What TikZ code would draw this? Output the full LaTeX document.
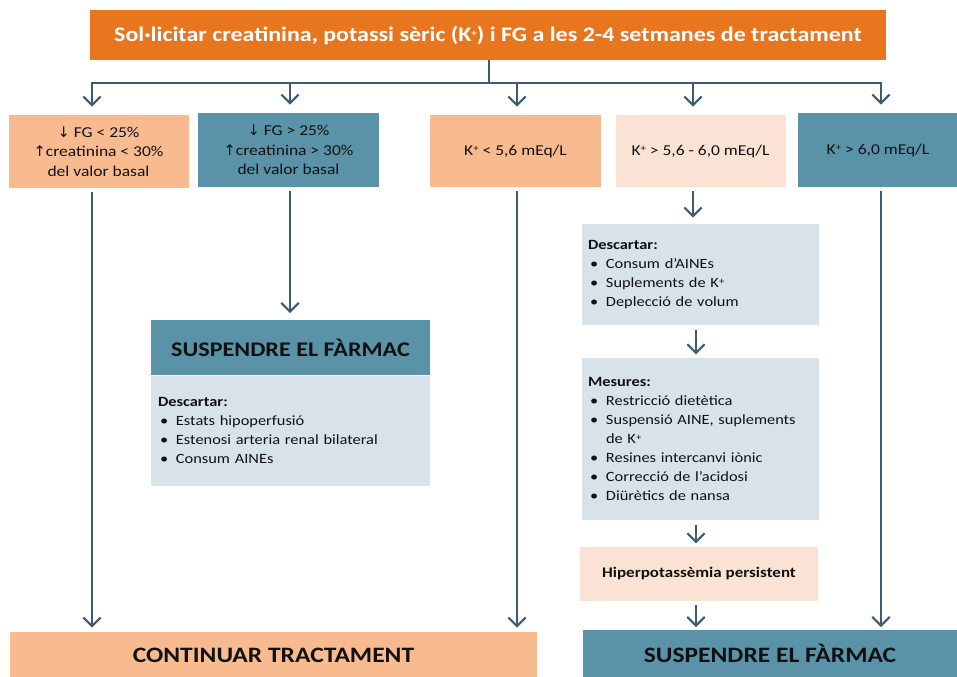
\documentclass[tikz,border=0pt]{standalone}
\usepackage{fontspec}
\setmainfont{Carlito}[FakeStretch=1.16]
\newfontfamily\symf{DejaVu Sans}
\usetikzlibrary{arrows.meta}
\definecolor{orangeT}{HTML}{E8761E}
\definecolor{peach}{HTML}{F8BB90}
\definecolor{teal}{HTML}{5A93A8}
\definecolor{lpeach}{HTML}{FAE3D5}
\definecolor{lblue}{HTML}{D7E2E9}
\definecolor{lineC}{HTML}{3D5C71}
\definecolor{txt}{HTML}{111111}
\newcommand{\bul}{\makebox[13.5pt][l]{\hspace{1.5pt}\textbullet}}
\newcommand{\Kp}{K\raisebox{0.45ex}{\scriptsize +}}
\newcommand{\dn}{{\symf\fontsize{11}{10}\selectfont ↓}}
\newcommand{\up}{{\symf\fontsize{11}{10}\selectfont ↑}}
\tikzset{
  sz/.style 2 args={minimum width=#1*0.75pt, minimum height=#2*0.75pt},
  box/.style={inner sep=0pt, align=center, text=txt, font=\fontsize{11.3}{14.5}\selectfont},
  listbox/.style={inner xsep=4.5pt, inner ysep=0pt, align=left, text=txt, fill=lblue, font=\fontsize{10.6}{14.3}\selectfont},
  arr/.style={draw=lineC, line width=1.6pt, -{Straight Barb[length=6.5pt,width=13pt]}},
  ln/.style={draw=lineC, line width=1.6pt}
}
\begin{document}
\begin{tikzpicture}[x=0.75pt,y=-0.75pt]
\useasboundingbox (0,0) rectangle (957,677);
\fill[white] (0,0) rectangle (957,677);
% top
\node[box, fill=orangeT, text=white, font=\bfseries\fontsize{15.5}{18}\selectfont, sz={796}{50}] (top) at (488,35)
  {Sol·licitar creatinina, potassi sèric (\Kp) i FG a les 2-4 setmanes de tractament};
% row 1
\node[box, fill=peach, sz={180}{73}] (b1) at (98.5,151.5) {\dn\ FG < 25\%\\\up creatinina < 30\%\\del valor basal};
\node[box, fill=teal, sz={181}{74}] (b2) at (288.5,150) {\dn\ FG > 25\%\\\up creatinina > 30\%\\del valor basal};
\node[box, fill=peach, sz={171}{72}] (b3) at (515.5,151) {\Kp\ < 5,6 mEq/L};
\node[box, fill=lpeach, sz={170}{72}] (b4) at (700.5,151) {\Kp\ > 5,6 - 6,0 mEq/L};
\node[box, fill=teal, sz={160}{74}] (b5) at (878,150) {\Kp\ > 6,0 mEq/L};
% left suspend
\node[box, fill=teal, font=\bfseries\fontsize{15.6}{19}\selectfont, sz={279}{55}] (sh) at (290.5,347.5) {SUSPENDRE EL FÀRMAC};
\node[listbox, text width=198.75pt, inner xsep=5.25pt, minimum height=110*0.75pt, anchor=north] (sb) at (sh.south)
  {\textbf{Descartar:}\\\bul Estats hipoperfusió\\\bul Estenosi arteria renal bilateral\\\bul Consum AINEs};
% right column
\node[listbox, text width=168.75pt, minimum height=101*0.75pt] (d) at (700.5,274.5)
  {\textbf{Descartar:}\\\bul Consum d’AINEs\\\bul Suplements de \Kp\\\bul Deplecció de volum};
\node[listbox, text width=168.75pt, minimum height=162*0.75pt] (m) at (700.5,439)
  {\textbf{Mesures:}\\\bul Restricció dietètica\\\bul Suspensió AINE, suplements\\\hspace*{13.5pt}de \Kp\\\bul Resines intercanvi iònic\\\bul Correcció de l’acidosi\\\bul Diürètics de nansa};
\node[box, fill=lpeach, font=\bfseries\fontsize{11}{13}\selectfont, sz={238}{54}] (h) at (699,574) {Hiperpotassèmia persistent};
% bottom
\node[box, fill=peach, font=\bfseries\fontsize{16.5}{20}\selectfont, sz={527}{46}] (cont) at (273.5,655) {CONTINUAR TRACTAMENT};
\node[box, fill=teal, font=\bfseries\fontsize{16.5}{20}\selectfont, sz={374}{47}] (sbot) at (770,653.5) {SUSPENDRE EL FÀRMAC};
% connectors
\coordinate (j) at (489,83);
\coordinate (a1) at (92,83);
\coordinate (a2) at (290,83);
\coordinate (a3) at (517,83);
\coordinate (a4) at (693,83);
\coordinate (a5) at (881,83);
\coordinate (xm) at (696,0);
\draw[ln] (top.south -| j) -- (j);
\draw[arr, shorten >=6pt] (j) -- (a1) -- (b1.north -| a1);
\draw[arr, shorten >=6pt] (j) -- (a5) -- (b5.north -| a5);
\draw[arr, shorten >=6pt] (a2) -- (b2.north -| a2);
\draw[arr, shorten >=6pt] (a3) -- (b3.north -| a3);
\draw[arr, shorten >=6pt] (a4) -- (b4.north -| a4);
\draw[arr, shorten <=3pt, shorten >=3pt] (b1.south -| a1) -- (cont.north -| a1);
\draw[arr, shorten <=3pt, shorten >=3pt] (b3.south -| a3) -- (cont.north -| a3);
\draw[arr, shorten <=3pt, shorten >=5pt] (b2.south -| a2) -- (sh.north -| a2);
\draw[arr, shorten <=3pt, shorten >=4.5pt] (b4.south -| a4) -- (d.north -| a4);
\draw[arr, shorten <=3.5pt, shorten >=2.5pt] (d.south -| xm) -- (m.north -| xm);
\draw[arr, shorten <=3.5pt, shorten >=2.5pt] (m.south -| xm) -- (h.north -| xm);
\draw[arr, shorten <=3pt, shorten >=2pt] (h.south -| xm) -- (sbot.north -| xm);
\draw[arr, shorten <=3pt, shorten >=2pt] (b5.south -| a5) -- (sbot.north -| a5);
\end{tikzpicture}
\end{document}
